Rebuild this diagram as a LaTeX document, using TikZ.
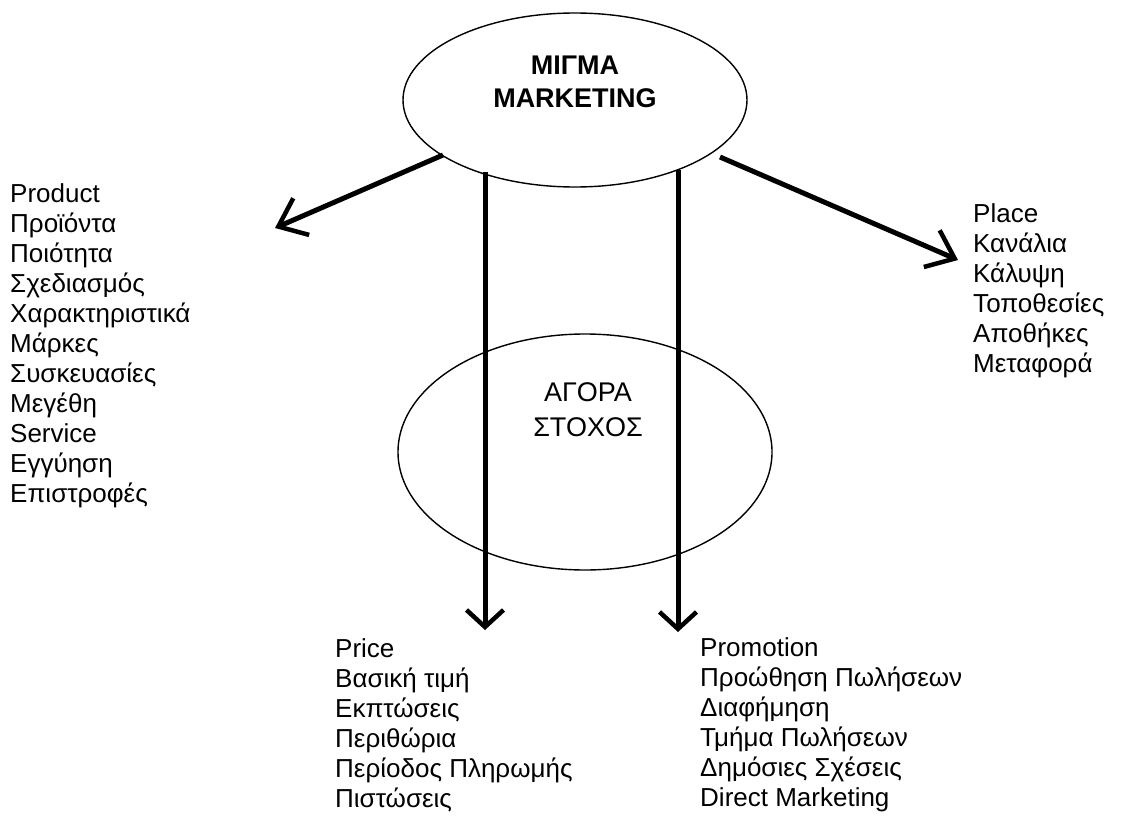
\documentclass[tikz,border=0pt]{standalone}
\usepackage{fontspec}
\setmainfont{Liberation Sans}
\usetikzlibrary{shapes.geometric,arrows.meta}
\begin{document}
\begin{tikzpicture}[x=1pt,y=-1pt,
  lst/.style={anchor=north west, inner sep=0pt, align=left, font=\fontsize{26}{30}\selectfont},
  oval/.style={draw, ellipse, line width=1.4pt, inner sep=0pt},
  ttl/.style={align=center, inner sep=0pt},
  arr/.style={line width=5pt, -{Straight Barb[length=17pt,width=37pt,line width=4.5pt]}},
  arrd/.style={line width=5pt, -{Straight Barb[length=25pt,width=40pt,line width=4.5pt]}}]
\useasboundingbox (0,0) rectangle (1121,816);
% ellipses
\node[oval, minimum width=344pt, minimum height=174pt] (m) at (575,100) {};
\node[oval, minimum width=374pt, minimum height=236pt] (t) at (585,452) {};
\node[ttl, font=\fontsize{27}{33}\bfseries\selectfont] (mt) at (575,81.5) {ΜΙΓΜΑ\\MARKETING};
\node[ttl, font=\fontsize{27}{35}\selectfont] (tt) at (588,409.5) {ΑΓΟΡΑ\\ΣΤΟΧΟΣ};
% lists
\node[lst] (prod) at (10,183) {Product\\Προϊόντα\\Ποιότητα\\Σχεδιασμός\\Χαρακτηριστικά\\Μάρκες\\Συσκευασίες\\Μεγέθη\\Service\\Εγγύηση\\Επιστροφές};
\node[lst] (place) at (973,203) {Place\\Κανάλια\\Κάλυψη\\Τοποθεσίες\\Αποθήκες\\Μεταφορά};
\node[lst] (price) at (335,638) {Price\\Βασική τιμή\\Εκπτώσεις\\Περιθώρια\\Περίοδος Πληρωμής\\Πιστώσεις};
\node[lst] (promo) at (700,637) {Promotion\\Προώθηση Πωλήσεων\\Διαφήμηση\\Τμήμα Πωλήσεων\\Δημόσιες Σχέσεις\\Direct Marketing};
% arrow ends
\coordinate (s1) at (443,155);
\coordinate (e1) at (275,228);
\coordinate (s2) at (720,157);
\coordinate (e2) at (958,260);
\coordinate (s3) at (485,172);
\coordinate (e3) at (485,630);
\coordinate (s4) at (678,170);
\coordinate (e4) at (678,632);
\draw[arrd] (s1) -- (e1);
\draw[arrd] (s2) -- (e2);
\draw[arr] (s3) -- (e3);
\draw[arr] (s4) -- (e4);
\end{tikzpicture}
\end{document}
